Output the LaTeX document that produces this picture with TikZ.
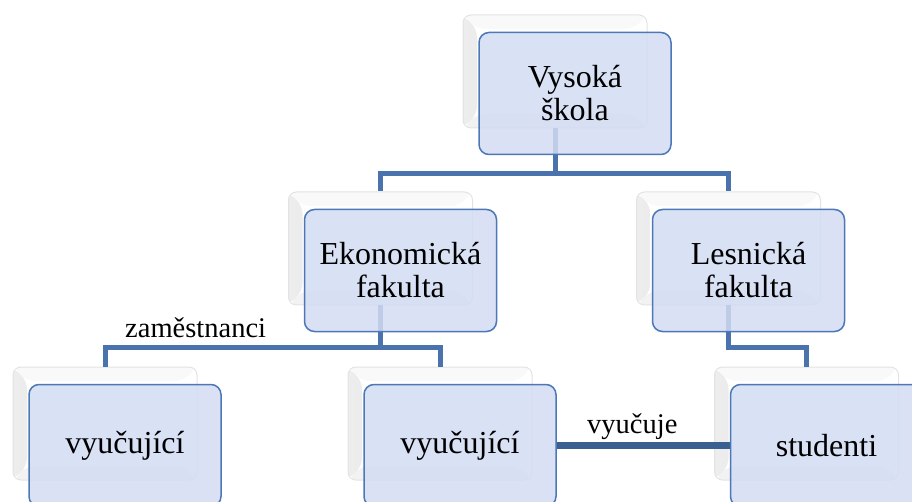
\documentclass[tikz,border=0pt]{standalone}
\usepackage{fontspec}
\setmainfont{Liberation Serif}
\usetikzlibrary{calc}
\definecolor{frontfill}{HTML}{D3DCF3}
\definecolor{frontdraw}{HTML}{4C78B8}
\definecolor{connc}{HTML}{4A72AC}
\definecolor{conndark}{HTML}{3A6092}
\pgfdeclarelayer{backl}
\pgfdeclarelayer{connl}
\pgfsetlayers{backl,connl,main}
\begin{document}
\begin{tikzpicture}[x=1pt,y=-1pt,
  backbox/.style={draw=gray!22, line width=1pt, fill=white, rounded corners=8pt,
    minimum width=184pt, minimum height=113pt, inner sep=0pt,
    path picture={
      \fill[left color=gray!14, right color=gray!30]
        (path picture bounding box.north west) -- ++(14,14)
        -- ($(path picture bounding box.south west)+(14,-14)$)
        -- (path picture bounding box.south west) -- cycle;
      \fill[gray!5]
        (path picture bounding box.north west) -- ++(14,14)
        -- ($(path picture bounding box.north east)+(-14,14)$)
        -- (path picture bounding box.north east) -- cycle;
      \fill[gray!10]
        (path picture bounding box.south west) -- ++(14,-14)
        -- ($(path picture bounding box.south east)+(-14,-14)$)
        -- (path picture bounding box.south east) -- cycle;
    }},
  frontbox/.style={draw=frontdraw, line width=1.5pt, fill=frontfill, fill opacity=0.85,
    text opacity=1, rounded corners=10pt, minimum width=192pt, minimum height=122pt,
    inner sep=0pt, align=center, font=\fontsize{32}{33}\selectfont},
  conn/.style={draw=connc, line width=5pt},
  connthick/.style={draw=conndark, line width=7pt},
  lab/.style={font=\fontsize{28.5}{30}\selectfont, inner sep=0pt, anchor=base west}
]
\useasboundingbox (0,0) rectangle (912,502);
\clip (0,0) rectangle (912,502);

\begin{pgfonlayer}{backl}
  \node[backbox] (topB) at (555,71.5) {};
  \node[backbox] (ekoB) at (380.5,248.5) {};
  \node[backbox] (lesB) at (728.5,248.5) {};
  \node[backbox] (v1B) at (105,423.5) {};
  \node[backbox] (v2B) at (440,423.5) {};
  \node[backbox] (stB) at (806.5,423.5) {};
\end{pgfonlayer}

\node[frontbox] (topF) at (575,93.5) {Vysoká\\škola};
\node[frontbox] (ekoF) at (400.5,270.5) {Ekonomická\\fakulta};
\node[frontbox] (lesF) at (748.5,270.5) {Lesnická\\fakulta};
\node[frontbox] (v1F) at (125,445.5) {vyučující};
\node[frontbox] (v2F) at (460,445.5) {vyučující};
\node[frontbox] (stF) at (826.5,445.5) {studenti};

\begin{pgfonlayer}{connl}
  \draw[conn] (topB.south) -- ++(0,45) -| (ekoB.north);
  \draw[conn] (topB.south) ++(0,45) -| (lesB.north);
  \draw[conn] (ekoB.south) -- ++(0,42) -| (v1B.north);
  \draw[conn] (ekoB.south) ++(0,42) -| (v2B.north);
  \draw[conn] (lesB.south) -- ++(0,42) -| (stB.north);
  \draw[connthick] (v2F.east) -- (stF.west);
\end{pgfonlayer}

\node[lab] (lab1) at (125,337) {zaměstnanci};
\node[lab] (lab2) at (587,433) {vyučuje};
\end{tikzpicture}
\end{document}
